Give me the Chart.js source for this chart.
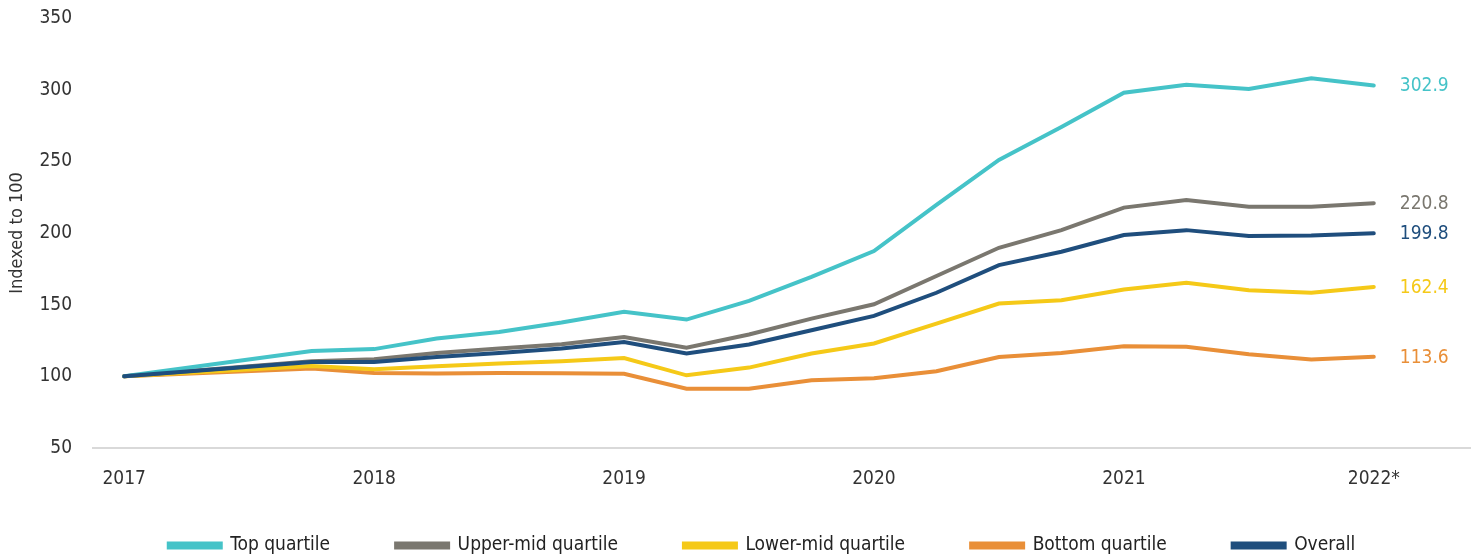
<!DOCTYPE html>
<html>
<head>
<meta charset="utf-8">
<script src="https://cdn.jsdelivr.net/npm/chart.js@4.4.1/dist/chart.umd.min.js"></script>
<style>
  html, body { margin: 0; padding: 0; background: #fff; }
  #wrap { width: 1481px; height: 558px; }
</style>
</head>
<body>
<div id="wrap"><canvas id="chart"></canvas></div>
<script>
// ---------- Data ----------
const yearLabels = ["2017", "2018", "2019", "2020", "2021", "2022*"];
// quarter index from start of 2017 (4 per year)
const quarterIdx = [0, 3, 4, 5, 6, 7, 8, 9, 10, 11, 12, 13, 14, 15, 16, 17, 18, 19, 20];

const topQuartile    = [100, 117.7, 119.0, 126.4, 131.0, 137.5, 145.0, 139.6, 152.7, 169.4, 187.4, 219.6, 251.0, 274.0, 297.9, 303.5, 300.5, 308.0, 302.9];
const upperMid       = [100, 110.5, 112.0, 116.3, 119.4, 122.4, 127.5, 120.0, 129.2, 140.3, 150.3, 170.0, 189.7, 202.0, 217.7, 223.0, 218.4, 218.4, 220.8];
const lowerMid       = [100, 107.2, 104.9, 107.0, 108.9, 110.5, 112.8, 100.7, 106.1, 115.9, 122.9, 136.8, 150.8, 153.1, 160.6, 165.2, 160.0, 158.3, 162.4];
const bottomQuartile = [100, 105.4, 102.3, 102.0, 102.3, 102.2, 101.8,  91.4,  91.4,  97.2,  98.6, 103.5, 113.5, 116.3, 121.0, 120.7, 115.4, 111.7, 113.6];
const overall        = [100, 110.0, 110.0, 113.5, 116.3, 119.4, 124.0, 115.9, 122.2, 132.2, 142.2, 158.3, 177.6, 186.9, 198.6, 202.0, 197.9, 198.2, 199.8];

const seriesNames = ["Top quartile", "Upper-mid quartile", "Lower-mid quartile", "Bottom quartile", "Overall"];
const seriesColors = ["#45c3c8", "#7a776f", "#f5c918", "#e98f38", "#1f4e7d"];
const seriesValues = [topQuartile, upperMid, lowerMid, bottomQuartile, overall];

const FONT = "'DejaVu Sans Condensed', 'Roboto', sans-serif";

function toPoints(vals) {
  return vals.map((v, i) => ({ x: quarterIdx[i], y: v }));
}

// ---------- Plugins ----------
// value labels at the end of each line
const endLabels = {
  id: "endLabels",
  afterDatasetsDraw(chart) {
    const ctx = chart.ctx;
    ctx.save();
    ctx.font = "19px " + FONT;
    ctx.textAlign = "left";
    ctx.textBaseline = "middle";
    chart.data.datasets.forEach((ds, i) => {
      const meta = chart.getDatasetMeta(i);
      const last = meta.data[meta.data.length - 1];
      const val = ds.data[ds.data.length - 1].y;
      ctx.fillStyle = ds.borderColor;
      ctx.fillText(val.toFixed(1), last.x + 26, last.y + 1);
    });
    ctx.restore();
  }
};

// legend in the original sits a bit right of centre and tucked under the year labels
const placeLegend = {
  id: "placeLegend",
  afterLayout(chart) {
    if (!chart.legend) return;
    chart.legend.left = 54;
    chart.legend.top = 470;
  }
};

const ctx = document.getElementById("chart").getContext("2d");
new Chart(ctx, {
  type: "line",
  data: {
    datasets: seriesNames.map((name, i) => ({
      label: name,
      data: toPoints(seriesValues[i]),
      borderColor: seriesColors[i],
      backgroundColor: seriesColors[i],
      borderWidth: 4,
      pointRadius: 0,
      tension: 0,
      fill: false,
      borderCapStyle: "round",
      order: i === 4 ? -1 : 0
    }))
  },
  options: {
    responsive: true,
    maintainAspectRatio: false,
    animation: false,
    layout: { padding: { top: 18, right: 11, left: 0, bottom: 0 } },
    plugins: {
      legend: {
        position: "bottom",
        maxHeight: 60,
        labels: {
          boxWidth: 52,
          boxHeight: 4,
          padding: 66,
          color: "#222",
          font: { family: FONT, size: 19 },
          sort: (a, b) => a.datasetIndex - b.datasetIndex
        }
      },
      tooltip: { enabled: false }
    },
    scales: {
      x: {
        type: "linear",
        min: -0.5,
        max: 21.54,
        grid: { display: false, drawTicks: false },
        border: { display: true, color: "#d9d9d9", width: 2 },
        afterBuildTicks: (scale) => {
          scale.ticks = yearLabels.map((y, i) => ({ value: i * 4 }));
        },
        afterFit: (scale) => { scale.height = 50; },
        ticks: {
          padding: 20,
          maxRotation: 0,
          autoSkip: false,
          color: "#333",
          font: { family: FONT, size: 19 },
          callback: (v) => yearLabels[v / 4]
        }
      },
      y: {
        min: 50,
        max: 350,
        grid: { display: false, drawTicks: false },
        border: { display: false },
        afterFit: (scale) => {
          scale.width = 93;
          scale.paddingTop = 0;
          scale.paddingBottom = 0;
        },
        ticks: {
          stepSize: 50,
          padding: 21,
          color: "#333",
          font: { family: FONT, size: 19 }
        },
        title: {
          display: true,
          text: "Indexed to 100",
          color: "#333",
          padding: { top: 7, bottom: 0 },
          font: { family: FONT, size: 18 }
        }
      }
    }
  },
  plugins: [endLabels, placeLegend]
});
</script>
</body>
</html>
